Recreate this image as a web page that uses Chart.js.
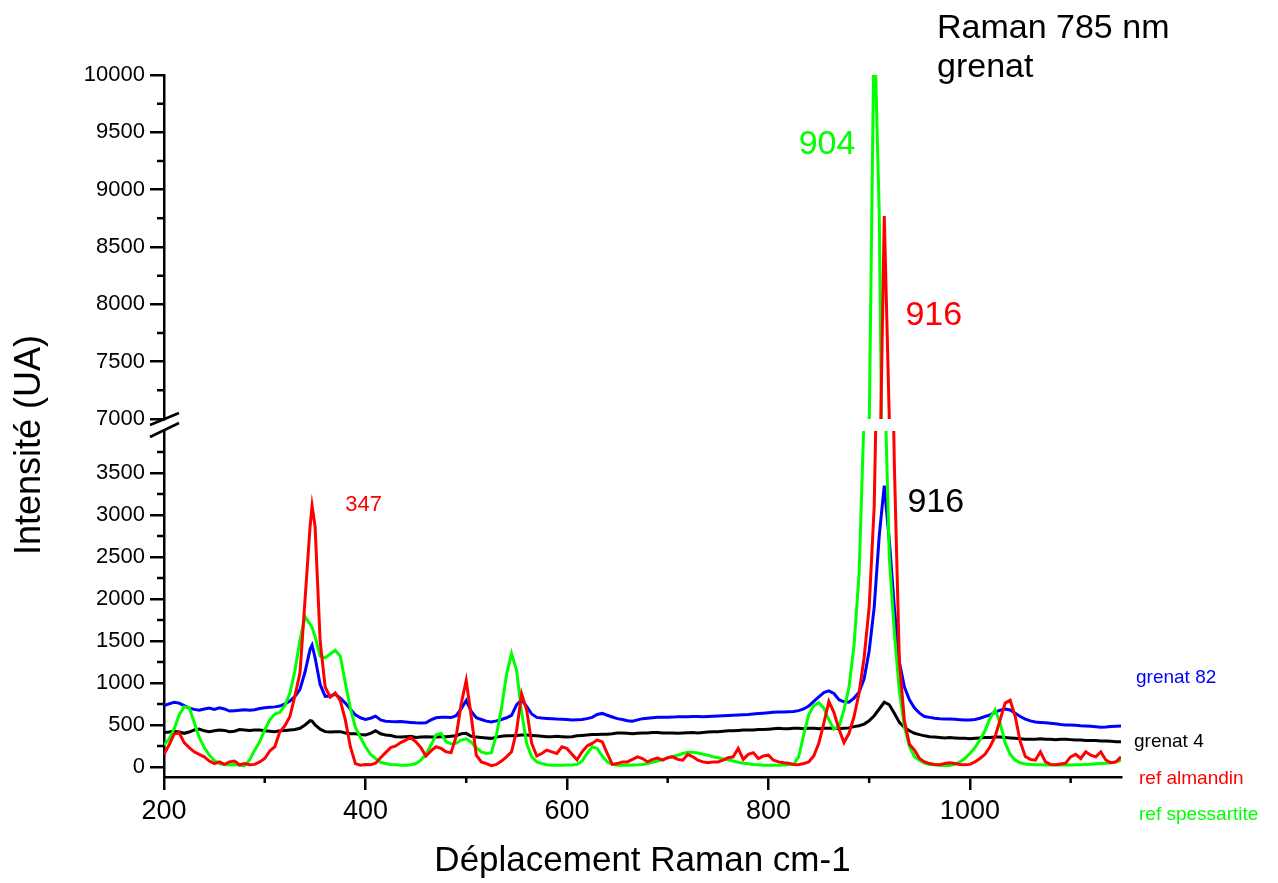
<!DOCTYPE html>
<html><head><meta charset="utf-8">
<script src="https://cdn.jsdelivr.net/npm/chart.js@4.4.1/dist/chart.umd.min.js"></script>
<style>html,body{margin:0;padding:0;background:#fff;overflow:hidden}#wrap{width:1278px;height:883px}</style>
</head><body><div id="wrap"><canvas id="c" width="1278" height="883"></canvas></div>
<script>
// Raman shift (cm-1)
const xs = [
 200,205,210,215,220,225,230,235,240,245,
 250,255,260,265,270,275,280,285,290,295,
 300,305,310,315,320,325,330,335,340,345,347,
 350,355,360,365,370,375,380,385,390,395,
 400,405,410,415,420,425,430,435,440,445,
 450,455,460,465,470,475,480,485,490,495,
 500,505,510,515,520,525,530,535,540,545,
 550,555,560,565,570,575,580,585,590,595,
 600,605,610,615,620,625,630,635,640,645,
 650,655,660,665,670,675,680,685,690,695,
 700,705,710,715,720,725,730,735,740,745,
 750,755,760,765,770,775,780,785,790,795,
 800,805,810,815,820,825,830,835,840,845,
 850,855,860,865,870,875,880,885,890,895,
 900,905,910,915,920,925,930,935,940,945,
 950,955,960,965,970,975,980,985,990,995,
 1000,1005,1010,1015,1020,1025,1030,1035,1040,1045,
 1050,1055,1060,1065,1070,1075,1080,1085,1090,1095,
 1100,1105,1110,1115,1120,1125,1130,1135,1140,1145,
 1150];
const grenat82 = [
 730,750,770,760,730,700,685,675,690,700,
 685,705,690,665,670,675,680,675,680,695,
 705,710,715,725,750,785,840,925,1130,1400,1450,
 1300,980,840,845,865,820,760,690,620,585,
 565,580,605,560,545,540,538,540,535,530,
 525,522,525,560,585,592,590,588,610,690,
 790,660,585,565,545,535,548,565,585,615,
 740,800,720,630,590,582,578,575,570,568,
 565,560,562,565,575,590,625,637,615,595,
 575,565,550,545,560,575,580,585,590,590,
 592,593,597,597,598,600,600,598,600,602,
 605,608,612,615,618,622,625,630,635,640,
 645,650,653,655,658,660,670,690,725,780,
 835,885,905,875,800,775,770,820,890,1050,
 1380,1900,2750,3350,2700,1900,1250,950,800,700,
 640,600,590,580,575,572,570,567,563,560,
 560,565,580,600,620,650,675,688,678,640,
 600,570,548,535,530,525,520,515,505,500,
 500,495,490,488,485,478,472,475,480,485,
 488];
const grenat4 = [
 410,415,425,415,400,415,440,450,430,420,
 430,440,435,420,425,445,440,435,440,440,
 430,425,420,430,435,440,445,460,500,550,545,
 500,450,420,415,420,420,405,395,395,385,
 380,400,430,395,380,375,360,355,360,365,
 350,355,360,355,355,360,360,365,370,395,
 400,365,355,350,345,340,355,365,370,370,
 375,380,380,375,370,365,360,360,365,360,
 355,360,370,375,380,385,385,390,390,395,
 405,405,400,395,400,405,405,410,410,405,
 405,405,400,405,408,410,405,410,415,420,
 420,425,430,430,435,440,440,440,445,445,
 450,455,460,455,455,460,460,455,460,460,
 455,460,460,460,455,460,465,480,490,510,
 550,610,690,770,740,640,530,470,430,400,
 385,370,360,355,350,345,350,345,340,340,
 335,340,345,350,350,355,355,350,345,340,
 335,330,330,330,335,330,330,325,330,330,
 325,320,320,315,315,315,310,310,305,300,
 300];
const refAlmandin = [
 150,260,390,410,290,230,180,150,120,70,
 40,60,30,60,70,25,40,25,30,60,
 100,190,240,420,490,600,850,1120,1990,2860,3110,
 2860,1500,950,830,880,790,560,240,40,20,
 30,25,45,110,170,230,250,290,320,350,
 300,230,130,190,240,220,180,170,360,750,
 1030,600,140,60,40,15,30,70,120,180,
 430,870,680,280,130,160,200,180,160,240,
 220,150,85,180,250,280,320,300,160,30,
 40,60,60,90,120,100,60,90,105,80,
 110,120,90,80,150,120,80,60,50,60,
 60,80,110,120,220,90,150,170,100,130,
 140,80,60,50,45,30,25,40,60,130,
 280,520,780,650,450,290,400,600,880,1300,
 1900,3100,6200,8770,7000,3600,1250,550,270,200,
 100,60,40,30,25,40,50,40,30,25,
 30,60,100,150,240,360,560,760,795,600,
 300,125,90,80,180,60,30,25,35,45,
 120,150,100,180,140,120,180,80,50,60,
 120];
const refSpessartite = [
 260,330,450,620,715,710,530,350,230,140,
 75,40,25,25,30,20,15,83,200,300,
 440,560,630,650,730,880,1150,1510,1790,1700,1660,
 1550,1320,1300,1345,1390,1320,1000,700,470,350,
 240,150,100,55,40,30,25,20,20,25,
 40,80,150,260,380,400,300,275,280,320,
 335,295,230,180,160,170,380,700,1100,1350,
 1150,650,280,120,60,40,25,20,20,20,
 22,24,30,70,160,240,220,130,60,30,
 20,20,20,22,25,30,40,55,70,90,
 110,125,140,160,175,175,165,150,140,120,
 110,95,85,70,55,45,38,30,25,20,
 20,20,20,22,25,30,120,380,620,730,
 765,700,560,450,480,680,950,1450,2300,4200,
 6900,10500,8800,4800,2500,1600,900,480,240,120,
 80,45,30,25,20,18,16,30,60,100,
 160,230,320,430,580,680,520,285,150,80,
 50,35,30,25,25,24,24,24,24,24,
 24,25,25,28,32,38,42,45,50,60,
 80];
const seriesNames = ['grenat 82','grenat 4','ref almandin','ref spessartite'];
const seriesColors = ['#0000ff','#000000','#ff0000','#00ff00'];
const xTicks = [200,400,600,800,1000];
const xTicksMinor = [300,500,700,900,1100];
const lowTicks = [0,500,1000,1500,2000,2500,3000,3500];
const lowTicksMinor = [250,750,1250,1750,2250,2750,3250,3750];
const highTicks = [7000,7500,8000,8500,9000,9500,10000];
const highTicksMinor = [7250,7750,8250,8750,9250,9750];

const FONT = "'Liberation Sans', Arial, sans-serif";
Chart.defaults.font.family = FONT;
Chart.defaults.color = '#000';

function hasFont(name){
  const c = document.createElement('canvas').getContext('2d');
  c.font = '40px monospace';
  const w1 = c.measureText('0123456789 abcdefg').width;
  c.font = "40px '" + name + "', monospace";
  const w2 = c.measureText('0123456789 abcdefg').width;
  return Math.abs(w1 - w2) > 0.5;
}
const narrowOK = hasFont('Liberation Sans Narrow');
const yTickFont = narrowOK ? {family:"'Liberation Sans Narrow', 'Liberation Sans', Arial, sans-serif", size:25}
                           : {family:FONT, size:22};

const pts = ys => xs.map((x,i)=>({x:x,y:ys[i]}));
function ds(label, ys, color, axis){
  return {label, data: pts(ys), borderColor: color, backgroundColor: color,
    borderWidth: 3, pointRadius: 0, tension: 0, yAxisID: axis, xAxisID: 'x', clip: false};
}
const setTicks = list => s => { s.ticks = list.map(v => ({value: v})); };

const axisClip = {
  id:'axisClip',
  beforeDatasetDraw(chart, args){
    const ys = chart.scales[args.meta.yAxisID];
    const a = chart.chartArea, ctx = chart.ctx;
    ctx.save(); ctx.beginPath();
    ctx.rect(a.left, ys.top, a.right - a.left, ys.bottom - ys.top);
    ctx.clip();
  },
  afterDatasetDraw(chart){ chart.ctx.restore(); }
};

const decor = {
  id:'decor',
  afterDraw(chart){
    const ctx = chart.ctx, xS = chart.scales.x, yH = chart.scales.yHigh, yL = chart.scales.yLow;
    const ax = chart.chartArea.left;
    ctx.save();
    ctx.strokeStyle = '#000'; ctx.lineWidth = 2.5;
    ctx.beginPath();
    highTicksMinor.forEach(v=>{const p=yH.getPixelForValue(v);ctx.moveTo(ax-7,p);ctx.lineTo(ax,p);});
    lowTicksMinor.forEach(v=>{const p=yL.getPixelForValue(v);ctx.moveTo(ax-7,p);ctx.lineTo(ax,p);});
    xTicksMinor.forEach(v=>{const p=xS.getPixelForValue(v);ctx.moveTo(p,xS.top);ctx.lineTo(p,xS.top+6);});
    ctx.stroke();
    // axis break marks
    ctx.beginPath();
    const yb1 = yH.bottom, yb2 = yL.top;
    ctx.moveTo(ax-14, yb1+6); ctx.lineTo(ax+15, yb1-6);
    ctx.moveTo(ax-14, yb2+6); ctx.lineTo(ax+15, yb2-8);
    ctx.stroke();
    // y axis title
    ctx.fillStyle = '#000';
    ctx.font = '36px ' + FONT;
    ctx.textAlign = 'center'; ctx.textBaseline = 'middle';
    ctx.translate(30, 445); ctx.rotate(-Math.PI/2);
    ctx.fillText('Intensité (UA)', 0, 0);
    ctx.restore();

    ctx.save();
    ctx.textAlign = 'left'; ctx.textBaseline = 'middle';
    const txt = (t, x, y, color, size) => { ctx.fillStyle = color; ctx.font = size + 'px ' + FONT; ctx.fillText(t, x, y); };
    // peak annotations (positioned in data coordinates)
    txt('347', xS.getPixelForValue(380), yL.getPixelForValue(3120), '#ff0000', 22);
    txt('904', xS.getPixelForValue(830), yH.getPixelForValue(9390), '#00ff00', 34);
    txt('916', xS.getPixelForValue(936), yH.getPixelForValue(7905), '#ff0000', 34);
    txt('916', xS.getPixelForValue(938), yL.getPixelForValue(3150), '#000000', 34);
    // title
    ctx.textBaseline = 'alphabetic';
    txt('Raman 785 nm', 937, 38, '#000', 34);
    txt('grenat', 937, 77, '#000', 34);
    // series labels at right end
    ctx.textBaseline = 'middle';
    txt(seriesNames[0], 1136, 678, seriesColors[0], 19);
    txt(seriesNames[1], 1134, 742, seriesColors[1], 19);
    txt(seriesNames[2], 1139, 779, seriesColors[2], 19);
    txt(seriesNames[3], 1139, 815, seriesColors[3], 19);
    ctx.restore();
  }
};

const yTickCommon = {color:'#000', font:yTickFont, padding:5, autoSkip:false, callback: v => String(v)};
const yGrid = {drawOnChartArea:false, drawTicks:true, tickLength:14, color:'#000', lineWidth:2.5};
const yBorder = {display:true, color:'#000', width:2.5};

new Chart(document.getElementById('c'), {
  type:'line',
  data:{datasets:[
    ds(seriesNames[2], refAlmandin, seriesColors[2], 'yLow'),
    ds(seriesNames[3], refSpessartite, seriesColors[3], 'yLow'),
    ds(seriesNames[0], grenat82, seriesColors[0], 'yLow'),
    ds(seriesNames[1], grenat4, seriesColors[1], 'yLow'),
    ds(seriesNames[2], refAlmandin, seriesColors[2], 'yHigh'),
    ds(seriesNames[3], refSpessartite, seriesColors[3], 'yHigh')
  ]},
  options:{
    responsive:false, animation:false, devicePixelRatio:1,
    layout:{padding:{left:0, right:157, top:75, bottom:0}},
    plugins:{legend:{display:false}, tooltip:{enabled:false}, title:{display:false}},
    scales:{
      x:{type:'linear', position:'bottom', min:200, max:1150,
        afterFit: s => { s.height = 106; },
        afterBuildTicks: setTicks(xTicks),
        ticks:{color:'#000', font:{size:27}, padding:5, maxRotation:0, autoSkip:false, callback: v => String(v)},
        grid:{drawOnChartArea:false, drawTicks:true, tickLength:13, color:'#000', lineWidth:2.5},
        border:{display:true, color:'#000', width:2.5},
        title:{display:true, text:'Déplacement Raman cm-1', color:'#000', font:{size:35}, padding:{top:0, bottom:1}}
      },
      yLow:{type:'linear', position:'left', stack:'ys', stackWeight:346, weight:1, min:-120, max:4000,
        afterFit: s => { s.width = 164; },
        afterBuildTicks: setTicks(lowTicks),
        ticks:yTickCommon, grid:yGrid, border:yBorder},
      yGap:{type:'linear', position:'left', stack:'ys', stackWeight:12, weight:2, min:0, max:1,
        afterFit: s => { s.width = 164; },
        ticks:{display:false}, grid:{display:false}, border:{display:false}},
      yHigh:{type:'linear', position:'left', stack:'ys', stackWeight:344, weight:3, min:7000, max:10000,
        afterFit: s => { s.width = 164; },
        afterBuildTicks: setTicks(highTicks),
        ticks:yTickCommon, grid:yGrid, border:yBorder}
    }
  },
  plugins:[axisClip, decor]
});
</script>
</body></html>
